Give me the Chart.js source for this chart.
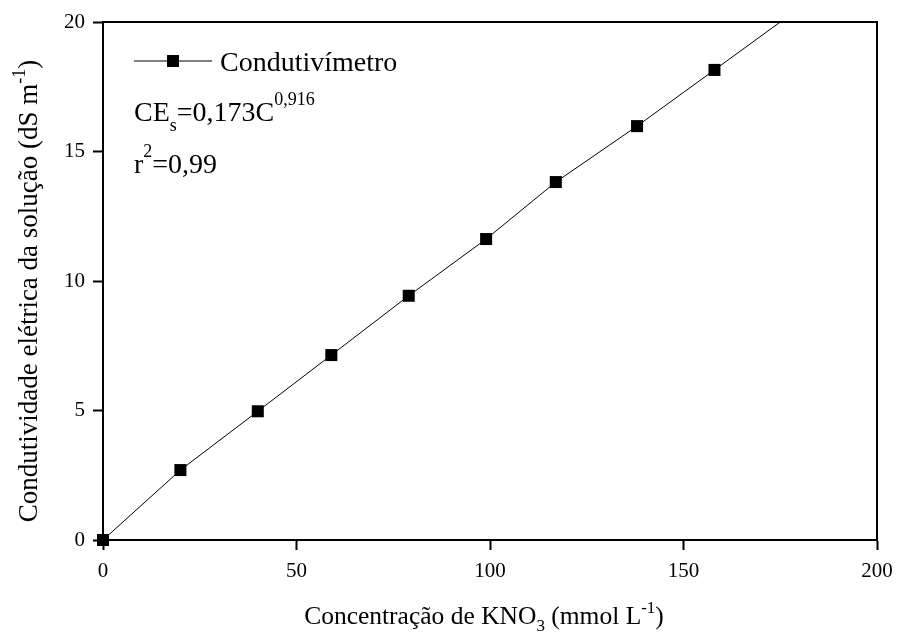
<!DOCTYPE html>
<html>
<head>
<meta charset="utf-8">
<script src="https://cdn.jsdelivr.net/npm/chart.js@4"></script>
<style>
  html, body { margin: 0; padding: 0; background: #fff; }
  #wrap { width: 898px; height: 637px; }
</style>
</head>
<body>
<div id="wrap"><canvas id="chart" width="898" height="637"></canvas></div>
<script>
/* ============================================
   DATA
============================================ */
const concentration = [0, 20, 40, 59, 79, 99, 117, 138, 158];
const conductivity  = [0, 2.7, 4.97, 7.14, 9.43, 11.62, 13.82, 15.98, 18.15];
// the drawn line runs on past the last point up to the top of the frame
const lineEnd = { x: 175, y: 20 };
const xTicks = [0, 50, 100, 150, 200];
const yTicks = [0, 5, 10, 15, 20];

const SERIF = "'Liberation Serif', 'Times New Roman', serif";

/* ============================================
   TEXT HELPER (sub/superscripts)
============================================ */
function richWidth(ctx, parts) {
    let w = 0;
    parts.forEach(p => {
        ctx.font = p.size + 'px ' + SERIF;
        w += ctx.measureText(p.t).width;
    });
    return w;
}

function drawRich(ctx, parts, x, y) {
    let cx = x;
    parts.forEach(p => {
        ctx.font = p.size + 'px ' + SERIF;
        ctx.fillText(p.t, cx, y + (p.dy || 0));
        cx += ctx.measureText(p.t).width;
    });
}

const decorPlugin = {
    id: 'decor',
    afterDraw(chart) {
        const ctx = chart.ctx;
        const a = chart.chartArea;
        ctx.save();

        // top + right frame
        ctx.strokeStyle = '#000';
        ctx.lineWidth = 2;
        ctx.beginPath();
        ctx.moveTo(a.left, a.top);
        ctx.lineTo(a.right, a.top);
        ctx.lineTo(a.right, a.bottom);
        ctx.stroke();

        ctx.fillStyle = '#000';
        ctx.textAlign = 'left';
        ctx.textBaseline = 'alphabetic';

        // legend
        const ly = 61;
        ctx.lineWidth = 1;
        ctx.beginPath();
        ctx.moveTo(134, ly);
        ctx.lineTo(212, ly);
        ctx.stroke();
        ctx.fillRect(167, ly - 6, 12, 12);
        drawRich(ctx, [{ t: 'Condutivímetro', size: 28 }], 220, 71);

        // equation and r²
        drawRich(ctx, [
            { t: 'CE', size: 28 },
            { t: 's', size: 18, dy: 10 },
            { t: '=0,173C', size: 28 },
            { t: '0,916', size: 18, dy: -16 }
        ], 134, 121);
        drawRich(ctx, [
            { t: 'r', size: 28 },
            { t: '2', size: 18, dy: -16 },
            { t: '=0,99', size: 28 }
        ], 134, 173);

        // x title
        const xParts = [
            { t: 'Concentração de KNO', size: 25.5 },
            { t: '3', size: 17, dy: 7 },
            { t: ' (mmol L', size: 25.5 },
            { t: '-1', size: 17, dy: -11 },
            { t: ')', size: 25.5 }
        ];
        const xw = richWidth(ctx, xParts);
        drawRich(ctx, xParts, 484 - xw / 2, 624);

        // y title
        const yParts = [
            { t: 'Condutividade elétrica da solução (dS m', size: 27 },
            { t: '-1', size: 18, dy: -12 },
            { t: ')', size: 27 }
        ];
        const yw = richWidth(ctx, yParts);
        ctx.translate(37, 291);
        ctx.rotate(-Math.PI / 2);
        drawRich(ctx, yParts, -yw / 2, 0);

        ctx.restore();
    }
};

/* ============================================
   CHART
============================================ */
function initChart() {
    const points = concentration.map((c, i) => ({ x: c, y: conductivity[i] }));
    points.push(lineEnd);
    const radii = points.map((p, i) => (i < concentration.length ? 8.5 : 0));

    const axisCommon = {
        type: 'linear',
        border: { display: true, color: '#000', width: 2 },
        grid: {
            display: true,
            drawOnChartArea: false,
            drawTicks: true,
            tickLength: 10,
            tickColor: '#000',
            tickWidth: 2
        }
    };

    new Chart(document.getElementById('chart').getContext('2d'), {
        type: 'line',
        data: {
            datasets: [{
                data: points,
                borderColor: '#000',
                borderWidth: 1,
                backgroundColor: '#000',
                pointStyle: 'rect',
                pointRadius: radii,
                pointBackgroundColor: '#000',
                pointBorderWidth: 0,
                tension: 0,
                clip: false
            }]
        },
        options: {
            responsive: false,
            animation: false,
            layout: { padding: { left: 0, top: 22, right: 21, bottom: 0 } },
            plugins: {
                legend: { display: false },
                tooltip: { enabled: false }
            },
            scales: {
                x: {
                    ...axisCommon,
                    min: 0,
                    max: 200,
                    afterBuildTicks: s => { s.ticks = xTicks.map(v => ({ value: v })); },
                    afterFit: s => {
                        s.height = 97;
                        s.paddingLeft = 0;
                        s.paddingRight = 0;
                    },
                    ticks: {
                        color: '#000',
                        padding: 9,
                        maxRotation: 0,
                        font: { family: SERIF, size: 21 }
                    }
                },
                y: {
                    ...axisCommon,
                    min: 0,
                    max: 20,
                    afterBuildTicks: s => { s.ticks = yTicks.map(v => ({ value: v })); },
                    afterFit: s => {
                        s.width = 103;
                        s.paddingTop = 0;
                        s.paddingBottom = 0;
                    },
                    ticks: {
                        color: '#000',
                        padding: 8,
                        font: { family: SERIF, size: 21 }
                    }
                }
            }
        },
        plugins: [decorPlugin]
    });
}

document.addEventListener('DOMContentLoaded', initChart);
</script>
</body>
</html>
